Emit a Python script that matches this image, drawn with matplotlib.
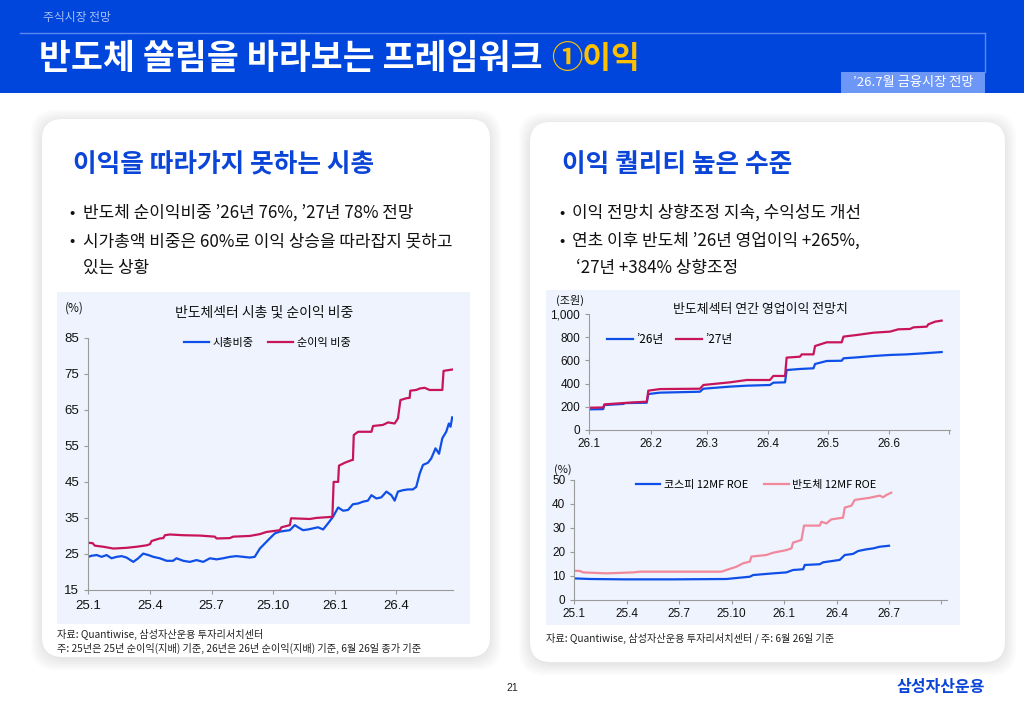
import matplotlib
matplotlib.use("Agg")
import matplotlib.pyplot as plt
from matplotlib.patches import FancyBboxPatch, Rectangle
from matplotlib.lines import Line2D

plt.rcParams['font.family'] = ['Noto Sans CJK KR', 'DejaVu Sans']

W, H = 1024, 709

# ---------------- data ----------------
# Chart 1: months since 2025-01
c1_ticks = [0, 3, 6, 9, 12, 15]
c1_labels = ['25.1', '25.4', '25.7', '25.10', '26.1', '26.4']
mcap_x = [0.00, 0.16, 0.41, 0.65, 0.89, 1.13, 1.38, 1.62, 1.86, 2.19, 2.43, 2.67, 2.92, 3.16,
          3.48, 3.81, 4.13, 4.29, 4.62, 4.94, 5.27, 5.59, 5.92, 6.24, 6.56, 6.89, 7.21, 7.54,
          7.86, 8.10, 8.35, 8.59, 8.83, 9.08, 9.32, 9.56, 9.81, 10.05, 10.21, 10.45, 10.70,
          10.94, 11.18, 11.43, 11.67, 11.91, 12.16, 12.40, 12.64, 12.88, 13.13, 13.37, 13.61,
          13.78, 14.02, 14.26, 14.51, 14.75, 14.91, 15.07, 15.32, 15.56, 15.80, 15.96, 16.13,
          16.29, 16.53, 16.69, 16.90, 17.07, 17.23, 17.42, 17.55, 17.63, 17.71]
mcap_y = [24.2, 24.5, 24.7, 24.2, 24.7, 23.8, 24.2, 24.4, 24.0, 22.8, 23.8, 25.1, 24.7, 24.2,
          23.8, 23.1, 23.1, 23.8, 23.1, 22.8, 23.3, 22.8, 23.8, 23.5, 23.8, 24.2, 24.4, 24.2,
          24.0, 24.2, 26.5, 27.9, 29.3, 30.7, 31.2, 31.4, 31.6, 33.0, 32.4, 31.6, 31.8,
          32.1, 32.4, 31.8, 33.5, 35.3, 37.9, 37.0, 37.2, 38.8, 39.0, 39.5, 39.8,
          41.3, 40.4, 40.7, 42.3, 41.3, 39.8, 42.3, 42.7, 42.9, 42.9, 43.6, 47.3,
          49.7, 50.3, 51.5, 54.3, 52.8, 57.1, 58.9, 61.2, 60.3, 62.9]
ni_x = [0.00, 0.21, 0.32, 0.73, 1.22, 1.86, 2.35, 2.84, 3.00, 3.08, 3.48, 3.65, 3.73, 3.97,
        4.62, 5.43, 6.16, 6.24, 6.89, 7.05, 7.86, 8.35, 8.67, 9.32, 9.40, 9.81, 9.87, 10.78,
        11.10, 11.88, 11.94, 12.16, 12.20, 12.48, 12.80, 12.88, 12.92, 13.13, 13.78, 13.86,
        14.34, 14.59, 14.91, 15.07, 15.19, 15.48, 15.64, 15.67, 15.96, 16.13, 16.37, 16.61,
        17.23, 17.29, 17.75]
ni_y = [28.1, 28.0, 27.3, 27.0, 26.5, 26.7, 27.0, 27.4, 27.7, 28.6, 29.3, 29.4, 30.2, 30.4,
        30.2, 30.1, 29.8, 29.3, 29.4, 29.8, 30.0, 30.5, 31.1, 31.6, 32.4, 33.0, 34.9, 34.7,
        35.0, 35.3, 45.0, 45.0, 49.5, 50.3, 51.0, 51.1, 58.0, 58.9, 58.9, 60.5,
        60.8, 61.5, 61.2, 62.6, 67.7, 68.2, 68.3, 70.3, 70.5, 70.9, 71.1, 70.5,
        70.5, 75.8, 76.2]

# Chart 2: days since 2026-01-01, operating profit forecast (trillion KRW)
c2_ticks = [0, 31, 59, 90, 120, 151, 181]
c2_labels = ['26.1', '26.2', '26.3', '26.4', '26.5', '26.6', '']
op_x = [0, 7.0, 7.6, 17.1, 18.0, 28.9, 29.7, 35.6, 55.7, 57.4, 70.8, 79.2, 90.9, 92.6, 98.5,
        99.3, 106.0, 112.8, 113.6, 119.5, 127.0, 127.9, 134.6, 143.0, 151.3, 159.7, 168.1, 177.3]
op26 = [178, 180, 215, 225, 232, 235, 310, 322, 330, 356, 374, 382, 388, 408, 411,
        517, 526, 532, 569, 595, 597, 618, 626, 638, 647, 652, 661, 672]
op27_x = [0, 7.0, 7.6, 15.4, 22.1, 28.9, 29.7, 35.6, 55.7, 57.4, 70.8, 79.2, 90.9, 92.6, 98.5,
          99.3, 106.0, 106.9, 112.8, 113.6, 119.5, 127.0, 127.9, 134.6, 143.0, 151.3, 155.5,
          161.4, 163.1, 169.8, 170.6, 174.0, 177.3]
op27 = [192, 194, 221, 230, 238, 244, 339, 353, 356, 388, 411, 431, 431, 466, 466,
        624, 632, 652, 652, 724, 756, 756, 805, 819, 839, 848, 868,
        871, 885, 891, 911, 934, 943]

# Chart 3: months since 2025-01, 12MF ROE (%)
c3_ticks = [0, 3, 6, 9, 12, 15, 18, 21]
c3_labels = ['25.1', '25.4', '25.7', '25.10', '26.1', '26.4', '26.7', '']
kospi_x = [0, 0.90, 2.80, 5.66, 8.70, 9.47, 10.04, 10.23, 11.37, 12.13, 12.51, 13.09, 13.18,
           14.04, 14.23, 15.18, 15.47, 15.94, 16.23, 16.70, 17.09, 17.47, 18.00]
kospi_roe = [9.0, 8.75, 8.6, 8.6, 8.75, 9.3, 9.7, 10.4, 11.1, 11.5, 12.5, 12.8, 14.6,
             14.9, 15.7, 16.7, 18.75, 19.2, 20.4, 21.1, 21.5, 22.2, 22.6]
semi_x = [0, 0.32, 0.51, 1.85, 3.37, 3.75, 5.66, 7.56, 8.42, 8.70, 9.28, 9.66, 10.04, 10.13,
          10.99, 11.37, 12.13, 12.42, 12.51, 12.99, 13.14, 14.04, 14.13, 14.42, 14.70, 15.37,
          15.47, 15.85, 16.04, 16.90, 17.47, 17.66, 17.85, 18.13]
semi_roe = [12.2, 12.1, 11.5, 11.1, 11.5, 11.8, 11.8, 11.8, 11.8, 12.5, 13.9, 15.3, 16.0, 18.1,
            18.75, 19.7, 20.8, 21.5, 23.9, 25.0, 31.0, 31.0, 32.6, 31.9, 33.6, 34.3,
            38.5, 39.3, 41.7, 42.6, 43.5, 42.8, 43.75, 44.7]

# ---------------- colours ----------------
HEADER = '#0046DC'
BLUE_LINE = '#0F4FE8'
RED_LINE = '#C8155A'
PINK_LINE = '#F0899C'
CHART_BG = '#EEF3FD'
TITLE_BLUE = '#0B45D8'
TXT = '#111111'

fig = plt.figure(figsize=(W / 100, H / 100), dpi=100)
fig.patch.set_facecolor('white')


def fx(x):
    return x / W


def fy(y):
    return 1 - y / H


def rect(x0, y0, x1, y1):
    return [x0 / W, 1 - y1 / H, (x1 - x0) / W, (y1 - y0) / H]


def text(x, y, s, **kw):
    kw.setdefault('ha', 'left')
    kw.setdefault('va', 'center')
    return fig.text(fx(x), fy(y), s, **kw)


# header
fig.patches.append(Rectangle((0, fy(93)), 1, 93 / H, transform=fig.transFigure,
                             facecolor=HEADER, edgecolor='none', zorder=0))
fig.add_artist(Line2D([fx(20), fx(985)], [fy(33), fy(33)], color='#5C88F2', lw=1.0))
fig.add_artist(Line2D([fx(985), fx(985)], [fy(33), fy(72)], color='#5C88F2', lw=1.0))
fig.patches.append(Rectangle((fx(841), fy(93)), (985 - 841) / W, 21 / H,
                             transform=fig.transFigure, facecolor='#6D97F7',
                             edgecolor='none', zorder=1))
text(913, 82.5, '’26.7월 금융시장 전망', color='white', fontsize=9.5, ha='center')
text(43, 18, '주식시장 전망', color='#A9C0F5', fontsize=8.5)
t1 = text(39, 59, '반도체 쏠림을 바라보는 프레임워크', color='white', fontsize=25,
          fontweight='bold')
fig.canvas.draw()
bb = t1.get_window_extent(fig.canvas.get_renderer())
text(bb.x1 + 8, 59, '①이익', color='#FFC000', fontsize=22.5, fontweight='bold')

# panels with soft shadow
for (x0, y0, x1, y1) in [(42, 119, 490, 657), (530, 122, 1005, 662)]:
    for i in range(6):
        g = 1 + i * 2
        fig.patches.append(FancyBboxPatch((fx(x0 - g), fy(y1 + g + 2)),
                                          (x1 - x0 + 2 * g) / W, (y1 - y0 + 2 * g) / H,
                                          boxstyle='round,pad=0,rounding_size=0.024',
                                          transform=fig.transFigure, facecolor='black',
                                          edgecolor='none', alpha=0.014, zorder=1,
                                          mutation_aspect=W / H))
    fig.patches.append(FancyBboxPatch((fx(x0), fy(y1)), (x1 - x0) / W, (y1 - y0) / H,
                                      boxstyle='round,pad=0,rounding_size=0.02',
                                      transform=fig.transFigure, facecolor='white',
                                      edgecolor='none', zorder=2, mutation_aspect=W / H))

# chart backgrounds
fig.patches.append(Rectangle((fx(57), fy(624)), (470 - 57) / W, (624 - 292) / H,
                             transform=fig.transFigure, facecolor=CHART_BG,
                             edgecolor='none', zorder=3))
fig.patches.append(Rectangle((fx(546), fy(625)), (960 - 546) / W, (625 - 290) / H,
                             transform=fig.transFigure, facecolor=CHART_BG,
                             edgecolor='none', zorder=3))

# panel texts
text(73, 165, '이익을 따라가지 못하는 시총', color=TITLE_BLUE, fontsize=18.5, fontweight='bold')
text(562, 165, '이익 퀄리티 높은 수준', color=TITLE_BLUE, fontsize=18.5, fontweight='bold')
bfs = 12.2
dfs = 10
text(69, 213, '•', fontsize=dfs, color=TXT, fontweight='bold')
text(83, 213, '반도체 순이익비중 ’26년 76%, ’27년 78% 전망', fontsize=bfs, color=TXT)
text(69, 241, '•', fontsize=dfs, color=TXT, fontweight='bold')
text(83, 241, '시가총액 비중은 60%로 이익 상승을 따라잡지 못하고', fontsize=bfs, color=TXT)
text(83, 268, '있는 상황', fontsize=bfs, color=TXT)
text(559, 213, '•', fontsize=dfs, color=TXT, fontweight='bold')
text(572, 213, '이익 전망치 상향조정 지속, 수익성도 개선', fontsize=bfs, color=TXT)
text(559, 241, '•', fontsize=dfs, color=TXT, fontweight='bold')
text(572, 241, '연초 이후 반도체 ’26년 영업이익 +265%,', fontsize=bfs, color=TXT)
text(576, 268, '‘27년 +384% 상향조정', fontsize=bfs, color=TXT)

# footnotes
text(57, 634, '자료: Quantiwise, 삼성자산운용 투자리서치센터', fontsize=7.3, color='#222222')
text(57, 648, '주: 25년은 25년 순이익(지배) 기준, 26년은 26년 순이익(지배) 기준, 6월 26일 종가 기준',
     fontsize=7.3, color='#222222')
text(546, 638, '자료: Quantiwise, 삼성자산운용 투자리서치센터 / 주: 6월 26일 기준', fontsize=7.3,
     color='#222222')
text(512, 688, '21', fontsize=7.5, color='#222222', ha='center',
     family=['Liberation Sans', 'DejaVu Sans'])
text(985, 687, '삼성자산운용', fontsize=11.5, color=TITLE_BLUE, fontweight='bold', ha='right')

NUMF = ['Liberation Sans', 'DejaVu Sans']


def style_axes(ax, fs):
    ax.set_facecolor('none')
    for s in ['top', 'right']:
        ax.spines[s].set_visible(False)
    for s in ['left', 'bottom']:
        ax.spines[s].set_color('#9A9A9A')
        ax.spines[s].set_linewidth(0.8)
    ax.tick_params(axis='both', colors='#9A9A9A', labelcolor=TXT, labelsize=fs,
                   width=0.8, length=3, direction='out')
    for lab in ax.get_xticklabels() + ax.get_yticklabels():
        lab.set_family(NUMF)
    ax.set_zorder(5)


# ---- chart 1 ----
ax1 = fig.add_axes(rect(88.3, 337.7, 453, 590))
ax1.plot(mcap_x, mcap_y, color=BLUE_LINE, lw=1.6, label='시총비중')
ax1.plot(ni_x, ni_y, color=RED_LINE, lw=1.6, label='순이익 비중')
ax1.set_xlim(0, 17.75)
ax1.set_ylim(15, 85)
ax1.set_yticks(range(15, 86, 10))
ax1.set_xticks(c1_ticks)
ax1.set_xticklabels(c1_labels)
style_axes(ax1, 9.5)
ax1.tick_params(axis='x', pad=4)
ax1.legend(loc='upper center', bbox_to_anchor=(0.49, 1.04), ncol=2, frameon=False,
           fontsize=8, handlelength=2.3, columnspacing=1.3, handletextpad=0.3)
text(74, 308, '(%)', fontsize=8.5, ha='center', color=TXT)
text(264, 313, '반도체섹터 시총 및 순이익 비중', fontsize=10, ha='center', color=TXT)

# ---- chart 2 ----
ax2 = fig.add_axes(rect(589.3, 314, 950, 430))
ax2.plot(op_x, op26, color=BLUE_LINE, lw=1.6, label='’26년')
ax2.plot(op27_x, op27, color=RED_LINE, lw=1.6, label='’27년')
ax2.set_xlim(0, 181.5)
ax2.set_ylim(0, 1000)
ax2.set_yticks(range(0, 1001, 200))
ax2.set_yticklabels(['0', '200', '400', '600', '800', '1,000'])
ax2.set_xticks(c2_ticks)
ax2.set_xticklabels(c2_labels)
style_axes(ax2, 8.5)
ax2.tick_params(axis='x', pad=3)
ax2.legend(loc='upper left', bbox_to_anchor=(0.02, 0.93), ncol=2, frameon=False,
           fontsize=8.5, handlelength=2.2, columnspacing=1.0, handletextpad=0.3)
text(570, 300, '(조원)', fontsize=8, ha='center', color=TXT)
text(760, 310, '반도체섹터 연간 영업이익 전망치', fontsize=9.3, ha='center', color=TXT)

# ---- chart 3 ----
ax3 = fig.add_axes(rect(574.3, 480, 946.7, 600))
ax3.plot(kospi_x, kospi_roe, color=BLUE_LINE, lw=1.6, label='코스피 12MF ROE')
ax3.plot(semi_x, semi_roe, color=PINK_LINE, lw=1.6, label='반도체 12MF ROE')
ax3.set_xlim(0, 21.3)
ax3.set_ylim(0, 50)
ax3.set_yticks(range(0, 51, 10))
ax3.set_xticks(c3_ticks)
ax3.set_xticklabels(c3_labels)
style_axes(ax3, 8.5)
ax3.tick_params(axis='x', pad=3)
ax3.legend(loc='upper left', bbox_to_anchor=(0.14, 1.08), ncol=2, frameon=False,
           fontsize=7.9, handlelength=2.2, columnspacing=1.5, handletextpad=0.3)
text(563, 470, '(%)', fontsize=8, ha='center', color=TXT)

fig.savefig('out.png', dpi=100)
